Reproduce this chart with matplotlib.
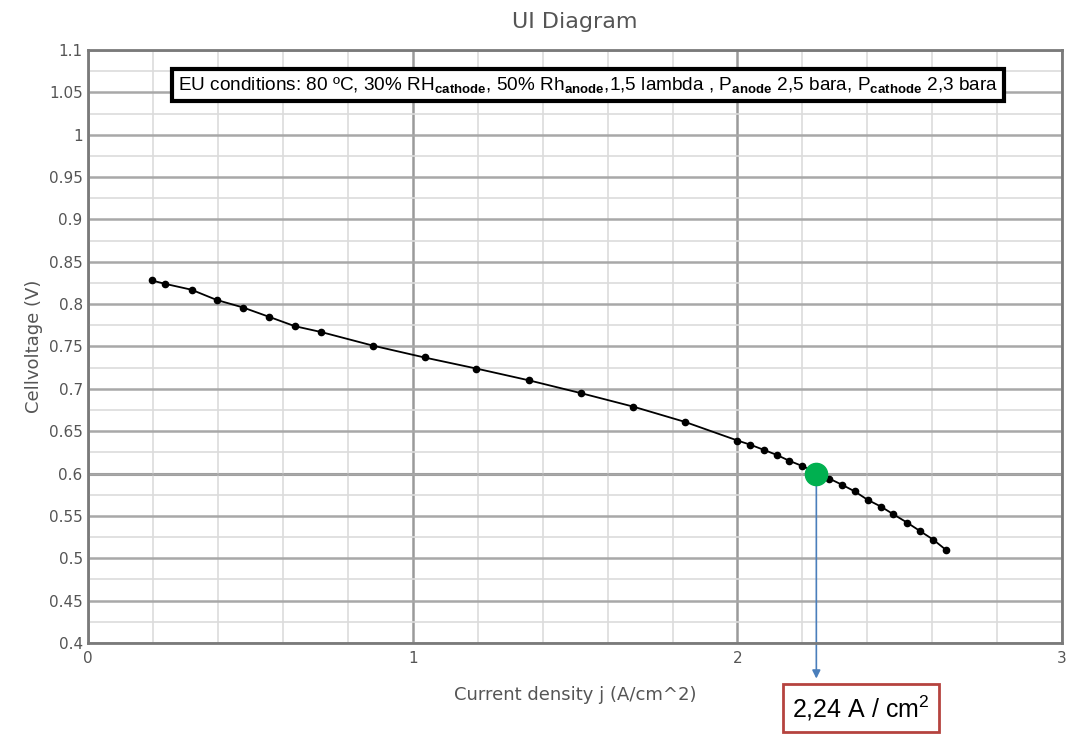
import matplotlib
matplotlib.use("Agg")
import matplotlib.pyplot as plt
from matplotlib.ticker import MultipleLocator, FixedLocator, FuncFormatter

plt.rcParams['mathtext.fontset'] = 'custom'
plt.rcParams['mathtext.rm'] = 'Liberation Sans'
plt.rcParams['mathtext.bf'] = 'Liberation Sans:bold'
plt.rcParams['mathtext.it'] = 'Liberation Sans:italic'

# ---- data ----
current_density = [0.195, 0.236, 0.318, 0.395, 0.477, 0.557, 0.636, 0.718, 0.877,
                   1.036, 1.195, 1.358, 1.517, 1.679, 1.838, 2.000, 2.040, 2.081,
                   2.121, 2.160, 2.199, 2.283, 2.321, 2.361, 2.401, 2.442, 2.480,
                   2.523, 2.563, 2.603, 2.642]
cell_voltage = [0.828, 0.824, 0.817, 0.805, 0.796, 0.785, 0.774, 0.767, 0.751,
                0.737, 0.724, 0.710, 0.695, 0.679, 0.661, 0.639, 0.634, 0.628,
                0.622, 0.615, 0.609, 0.594, 0.587, 0.579, 0.569, 0.561, 0.552,
                0.542, 0.532, 0.522, 0.510]
operating_point_j = 2.243
operating_point_v = 0.60
operating_label = "2,24 A / cm$^2$"
title = "UI Diagram"
xlabel = "Current density j (A/cm^2)"
ylabel = "Cellvoltage (V)"
conditions_text = (r"EU conditions: 80 ºC, 30% RH$_{\mathbf{cathode}}$, 50% Rh$_{\mathbf{anode}}$,"
                   r"1,5 lambda , P$_{\mathbf{anode}}$ 2,5 bara, P$_{\mathbf{cathode}}$ 2,3 bara")
x_ticks = [0, 1, 2, 3]
y_ticks = [0.4, 0.45, 0.5, 0.55, 0.6, 0.65, 0.7, 0.75, 0.8, 0.85, 0.9, 0.95, 1.0, 1.05, 1.1]

fig = plt.figure(figsize=(10.69, 7.34), dpi=100)
ax = fig.add_axes([0.0826, 0.124, 0.9109, 0.8079])

ax.set_xlim(0, 3)
ax.set_ylim(0.4, 1.1)

# grids
ax.xaxis.set_major_locator(FixedLocator(x_ticks))
ax.xaxis.set_minor_locator(MultipleLocator(0.2))
ax.yaxis.set_major_locator(FixedLocator(y_ticks))
ax.yaxis.set_minor_locator(MultipleLocator(0.025))
ax.grid(which='minor', color='#dcdcdc', lw=1.2, zorder=0)
ax.grid(which='major', axis='y', color='#a8a8a8', lw=1.8, zorder=0.5)
ax.grid(which='major', axis='x', color='#9a9a9a', lw=1.8, zorder=0.5)
ax.axhline(0.6, color='#8a8a8a', lw=2.2, zorder=0.6)

def fmt(v, pos):
    s = f"{v:.2f}".rstrip('0').rstrip('.')
    return s
ax.yaxis.set_major_formatter(FuncFormatter(fmt))
ax.xaxis.set_major_formatter(FuncFormatter(lambda v, p: f"{int(round(v))}"))

ax.tick_params(which='both', length=0, labelsize=11, labelcolor='#555555', pad=4)
ax.tick_params(axis='x', pad=6)
for s in ax.spines.values():
    s.set_color('#7a7a7a')
    s.set_linewidth(2)

# data
ax.plot(current_density, cell_voltage, '-', color='black', lw=1.3,
        marker='o', ms=4.5, zorder=3)
ax.plot([operating_point_j], [operating_point_v], 'o', color='#00b050',
        ms=16, zorder=4)

# arrow down from operating point
ax.annotate('', xy=(operating_point_j, -0.060), xycoords=('data', 'axes fraction'),
            xytext=(operating_point_j, operating_point_v), textcoords='data',
            arrowprops=dict(arrowstyle='-|>', color='#4a7ebb', lw=1.2,
                            mutation_scale=12, shrinkA=0, shrinkB=0),
            annotation_clip=False, zorder=2)

# label box
fig.text(861 / 1069, 1 - 708 / 734, operating_label, ha='center', va='center',
         fontsize=18, family='Liberation Sans', color='black',
         bbox=dict(boxstyle='square,pad=0.38', fc='white', ec='#b5433f', lw=2))

# conditions box
ax.text(1.54, 1.0586, conditions_text, ha='center', va='center', fontsize=13.7,
        family='Liberation Sans', color='black', zorder=5,
        bbox=dict(boxstyle='square,pad=0.3', fc='white', ec='black', lw=3))

ax.set_title(title, fontsize=16, color='#555555', pad=16, family='DejaVu Sans')
ax.set_xlabel(xlabel, fontsize=13, color='#555555', labelpad=14)
ax.set_ylabel(ylabel, fontsize=13, color='#555555', labelpad=4)

fig.savefig('out.png', dpi=100)
